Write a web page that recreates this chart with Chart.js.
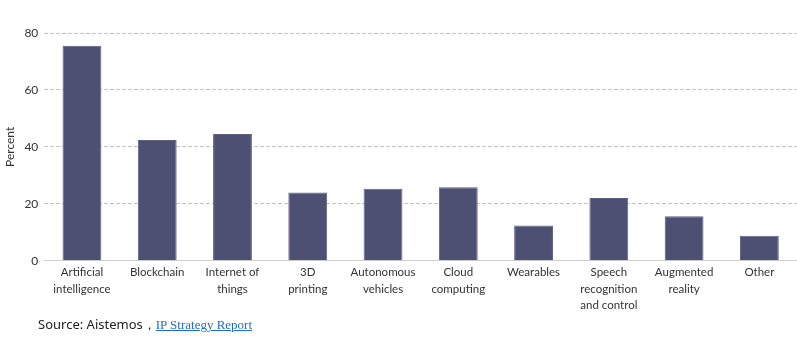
<!DOCTYPE html>
<html>
<head>
<meta charset="utf-8">
<script src="https://cdn.jsdelivr.net/npm/chart.js@4"></script>
<style>
  html, body { margin: 0; padding: 0; background: #fff; }
  #wrap { position: relative; width: 797px; height: 347px; }
  #source { position: absolute; left: 38px; top: 315px; font-family: "Noto Sans", sans-serif; font-size: 13px; color: #222; white-space: nowrap; }
  #source a { font-family: "Liberation Serif", "Times New Roman", serif; color: #1f6fc5; text-decoration: underline; font-size: 13px; }
</style>
</head>
<body>
<div id="wrap">
  <canvas id="c" width="797" height="347"></canvas>
  <div id="source">Source: Aistemos，<a href="#">IP Strategy Report</a></div>
</div>
<script>
const categories = [
  ["Artificial", "intelligence"],
  "Blockchain",
  ["Internet of", "things"],
  ["3D", "printing"],
  ["Autonomous", "vehicles"],
  ["Cloud", "computing"],
  "Wearables",
  ["Speech", "recognition", "and control"],
  ["Augmented", "reality"],
  "Other"
];
const percentValues = [75.5, 42.4, 44.5, 24.0, 25.3, 25.8, 12.4, 22.0, 15.6, 8.8];
const yTickValues = [0, 20, 40, 60, 80];

Chart.defaults.font.family = "Lato, 'Noto Sans', sans-serif";
Chart.defaults.font.size = 12;
Chart.defaults.color = "#333";

new Chart(document.getElementById("c"), {
  type: "bar",
  data: {
    labels: categories,
    datasets: [{
      label: "Percent",
      data: percentValues,
      backgroundColor: "#4e5073",
      borderColor: "#5d5f82",
      borderWidth: 1,
      barPercentage: 0.86,
      categoryPercentage: 0.6
    }]
  },
  options: {
    responsive: false,
    animation: false,
    layout: { padding: { top: 33, right: 0, bottom: 30, left: 3 } },
    plugins: { legend: { display: false }, tooltip: { enabled: false } },
    scales: {
      x: {
        grid: { display: false, drawTicks: false },
        border: { display: true, color: "#cfcfcf", width: 1 },
        ticks: { padding: 4, maxRotation: 0, autoSkip: false, font: { size: 11.5, lineHeight: 1.4 } }
      },
      y: {
        min: 0,
        max: 80,
        afterBuildTicks: (scale) => { scale.ticks = yTickValues.map(v => ({ value: v })); },
        grid: {
          drawTicks: false,
          color: (ctx) => ctx.tick && ctx.tick.value === 0 ? "rgba(0,0,0,0)" : "#c4c4c4",
          lineWidth: 1
        },
        border: { display: false, dash: [4, 2] },
        ticks: { padding: 6, font: { size: 12 } },
        title: { display: true, text: "Percent", font: { size: 12 }, padding: { top: 0, bottom: 1 } }
      }
    }
  }
});
</script>
</body>
</html>
